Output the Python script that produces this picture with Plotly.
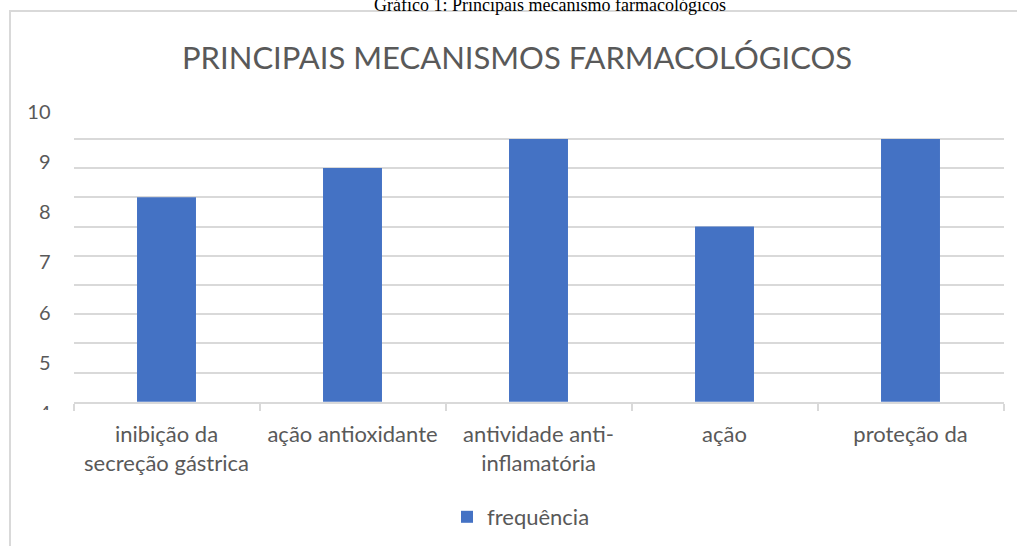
import plotly.graph_objects as go

# ---- data ----
categories = [
    "inibição da<br>secreção gástrica",
    "ação antioxidante",
    "antividade anti-<br>inflamatória",
    "ação",
    "proteção da",
]
frequencia = [8, 9, 10, 7, 10]
y_tick_labels = [4, 5, 6, 7, 8, 9, 10]
series_name = "frequência"
chart_title = "PRINCIPAIS MECANISMOS FARMACOLÓGICOS"
caption = "Gráfico 1: Principais mecanismo farmacológicos"

W, H = 1017, 546
def px_x(v):
    return v / W
def px_y(v):
    return (H - v) / H

FONT = "Lato"
GREY = "#595959"
GRID = "#d9d9d9"

fig = go.Figure()
fig.add_trace(go.Bar(
    x=categories, y=frequencia, name=series_name,
    marker=dict(color="#4472c4", line=dict(width=0)),
    xaxis="x", yaxis="y",
))
# empty helper trace for the label axis
fig.add_trace(go.Scatter(x=[], y=[], xaxis="x2", yaxis="y2", showlegend=False,
                         hoverinfo="skip"))

fig.update_layout(
    width=W, height=H,
    margin=dict(l=0, r=0, t=0, b=0, autoexpand=False),
    paper_bgcolor="white", plot_bgcolor="rgba(0,0,0,0)",
    font=dict(family=FONT, color=GREY, size=20),
    bargap=0.683,
    showlegend=True,
    legend=dict(orientation="h", x=px_x(521), xanchor="center", y=px_y(517), yanchor="middle",
                font=dict(size=22, color=GREY, family=FONT), bgcolor="rgba(0,0,0,0)"),
    xaxis=dict(domain=[px_x(73.5), px_x(1003.5)], anchor="y", automargin=False,
               showline=True, linecolor=GRID, linewidth=2,
               ticks="outside", tickson="boundaries", ticklen=7, tickcolor=GRID, tickwidth=2,
               tickfont=dict(size=22, color=GREY, family=FONT),
               showgrid=False, ticklabelstandoff=12),
    yaxis=dict(domain=[px_y(401.7), px_y(109.7)], anchor="x", automargin=False,
               range=[1, 11], tick0=1, dtick=1,
               showgrid=True, gridcolor=GRID, gridwidth=2,
               showticklabels=False, ticks="", zeroline=False, showline=False),
    xaxis2=dict(domain=[px_x(73.5), px_x(1003.5)], anchor="y2", visible=False,
                range=[0, 1], automargin=False),
    yaxis2=dict(domain=[px_y(413), px_y(111.7)], anchor="x2", automargin=False,
                range=[4, 10], tickvals=y_tick_labels,
                ticktext=[str(v) for v in y_tick_labels],
                showgrid=False, zeroline=False, showline=False, ticks="",
                tickfont=dict(size=20, color=GREY, family=FONT),
                ticklabelstandoff=22),
    shapes=[
        # chart frame
        dict(type="rect", xref="paper", yref="paper",
             x0=px_x(10), x1=1.02, y0=-0.05, y1=px_y(11),
             line=dict(color=GRID, width=2), fillcolor="rgba(0,0,0,0)", layer="below"),
        # clipped bottom of the lowest y label
        dict(type="rect", xref="paper", yref="paper",
             x0=px_x(15), x1=px_x(66), y0=px_y(428), y1=px_y(410),
             line=dict(width=0), fillcolor="white", layer="above"),
    ],
    annotations=[
        dict(text=chart_title, xref="paper", yref="paper", x=px_x(517), y=px_y(57),
             xanchor="center", yanchor="middle", showarrow=False,
             font=dict(size=31, color=GREY, family=FONT)),
        dict(text=caption, xref="paper", yref="paper", x=px_x(550), y=px_y(17),
             xanchor="center", yanchor="bottom", showarrow=False,
             font=dict(size=18, color="black", family="Liberation Serif")),
    ],
)

fig.write_html("out.html", config={"displayModeBar": False},
               post_script="document.body.style.margin='0';document.body.style.overflow='hidden';")
